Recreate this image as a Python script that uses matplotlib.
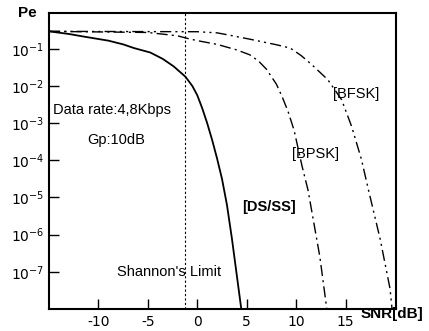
import numpy as np
import matplotlib
matplotlib.use('Agg')
from matplotlib import pyplot as plt

# SNR [dB] and log10(Pe)
snr_ds = [-15, -13, -11.5, -9, -7.5, -6.4, -4.75, -3.5, -2.4, -1.2, -0.5, 0, 0.5, 1, 1.5, 2, 2.5, 3, 3.5, 4, 4.45]
lpe_ds = [-0.53, -0.6, -0.67, -0.78, -0.88, -0.98, -1.1, -1.27, -1.47, -1.75, -2.0, -2.25, -2.6, -3.0, -3.45, -3.95, -4.5, -5.2, -6.1, -7.1, -8.0]

snr_bpsk = [-15, -5, -2, -1, 0, 2, 4, 5.3, 6.2, 7, 8, 8.6, 9.2, 9.8, 10.6, 11.2, 12.4, 13.1]
lpe_bpsk = [-0.53, -0.56, -0.65, -0.72, -0.78, -0.88, -1.03, -1.16, -1.33, -1.55, -1.95, -2.3, -2.7, -3.2, -4.16, -4.8, -6.6, -8.0]

snr_bfsk = [-15, 0, 2, 3, 5.3, 8, 9.4, 10.5, 11.6, 13.2, 14.6, 15.6, 16.6, 17.3, 18.5, 19.5, 19.7]
lpe_bfsk = [-0.53, -0.54, -0.57, -0.62, -0.74, -0.89, -0.98, -1.18, -1.43, -1.83, -2.37, -3.08, -3.97, -4.78, -6.12, -7.46, -8.0]

shannon = -1.2
xticks = [-10, -5, 0, 5, 10, 15]
yticks = [1e-1, 1e-2, 1e-3, 1e-4, 1e-5, 1e-6, 1e-7]
ylabels = [r'$10^{-%d}$' % k for k in range(1, 8)]

fig = plt.figure(figsize=(4.29, 3.31), dpi=100)
ax = fig.add_axes([49/429, 22/331, 347/429, 296/331])

ax.plot(snr_ds, 10**np.array(lpe_ds), color='black', lw=1.3)
ax.plot(snr_bpsk, 10**np.array(lpe_bpsk), color='black', lw=1.0, linestyle=(0, (8, 3, 1.5, 3)))
ax.plot(snr_bfsk, 10**np.array(lpe_bfsk), color='black', lw=1.0, linestyle=(0, (8, 3, 1.5, 3, 1.5, 3)))
ax.axvline(shannon, color='black', lw=0.8, linestyle=(0, (2, 2)))

ax.set_yscale('log')
ax.set_xlim(-15, 20.1)
ax.set_ylim(1e-8, 0.92)
ax.set_xticks(xticks)
ax.set_xticklabels([str(t) for t in xticks])
ax.set_yticks(yticks)
ax.set_yticklabels(ylabels)
ax.minorticks_off()
ax.tick_params(axis='both', which='major', direction='in', length=7, width=1, labelsize=10)
ax.tick_params(axis='x', pad=4)
for s in ax.spines.values():
    s.set_linewidth(1.5)

fnt = 'Liberation Sans'
fs = 10.5
ax.text(0.012, 0.672, 'Data rate:4,8Kbps', transform=ax.transAxes, fontsize=fs, family=fnt, va='center')
ax.text(0.11, 0.571, 'Gp:10dB', transform=ax.transAxes, fontsize=fs, family=fnt, va='center')
ax.text(0.818, 0.726, '[BFSK]', transform=ax.transAxes, fontsize=fs, family=fnt, va='center')
ax.text(0.70, 0.524, '[BPSK]', transform=ax.transAxes, fontsize=fs, family=fnt, va='center')
ax.text(0.556, 0.345, '[DS/SS]', transform=ax.transAxes, fontsize=fs, family=fnt, fontweight='bold', va='center')
ax.text(0.196, 0.125, "Shannon's Limit", transform=ax.transAxes, fontsize=fs, family=fnt, va='center')

fig.text(18/429, 1 - 13/331, 'Pe', fontsize=11, fontweight='bold', family=fnt, va='center')
fig.text(361/429, 1 - 314/331, 'SNR[dB]', fontsize=11, fontweight='bold', family=fnt, va='center')

plt.savefig('out.png', dpi=100)
